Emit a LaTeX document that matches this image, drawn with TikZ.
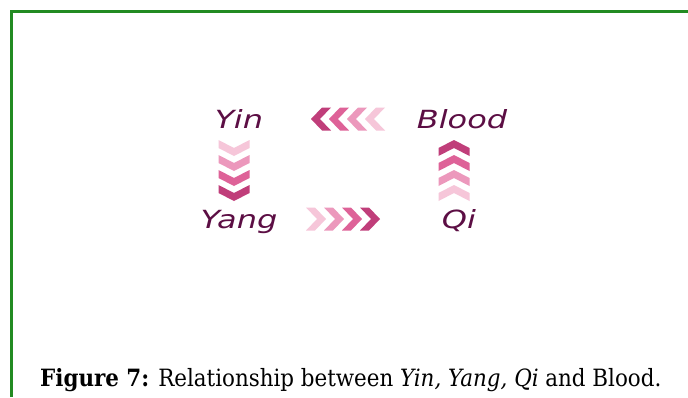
\documentclass[tikz,border=0pt]{standalone}
\usepackage{fontspec}
\setmainfont{DejaVu Serif Condensed}
\newfontfamily\handfont{DejaVu Sans}
\usetikzlibrary{calc}

\definecolor{frameGreen}{RGB}{34,139,34}
\definecolor{wordPurple}{RGB}{92,14,68}
\definecolor{pinkA}{RGB}{192,62,122}
\definecolor{pinkB}{RGB}{222,98,152}
\definecolor{pinkC}{RGB}{236,152,188}
\definecolor{pinkD}{RGB}{246,198,217}

\tikzset{
  word/.style={anchor=base, inner sep=0pt, text=wordPurple,
    font=\handfont\itshape\fontsize{25}{25}\selectfont, xscale=1.28, transform shape},
  caption/.style={anchor=base west, inner sep=0pt, text=black,
    font=\fontsize{23.8}{24}\selectfont},
  % chevron pointing right, tip at the origin
  chevH/.pic={\fill[pic actions] (0,0) -- (-11,-11.5) -- (-20,-11.5) -- (-9,0)
      -- (-20,11.5) -- (-11,11.5) -- cycle;},
  % chevron pointing down, tip at the origin
  chevV/.pic={\fill[pic actions] (0,0) -- (-15.5,-8) -- (-15.5,-16) -- (0,-8)
      -- (15.5,-16) -- (15.5,-8) -- cycle;},
}

\begin{document}
\begin{tikzpicture}[x=1pt,y=-1pt]
  \useasboundingbox (0,0) rectangle (688,397);
  \fill[white] (0,0) rectangle (688,397);

  % green frame, open to the right and bottom
  \draw[frameGreen, line width=3pt] (11.5,397) -- (11.5,11.5) -- (688,11.5);

  % the four words
  \node[word] (yin)   at (239,128) {Yin};
  \node[word] (blood) at (462,128) {Blood};
  \node[word] (yang)  at (239,228) {Yang};
  \node[word] (qi)    at (459,228) {Qi};

  % Blood -> Yin (pointing left)
  \foreach \i/\c in {0/pinkA,1/pinkB,2/pinkC,3/pinkD}
    \pic[fill=\c, xscale=-1] at ({311+18*\i},119) {chevH};
  % Yin -> Yang (pointing down)
  \foreach \i/\c in {0/pinkD,1/pinkC,2/pinkB,3/pinkA}
    \pic[fill=\c] at (234,{156+15*\i}) {chevV};
  % Yang -> Qi (pointing right)
  \foreach \i/\c in {0/pinkD,1/pinkC,2/pinkB,3/pinkA}
    \pic[fill=\c] at ({326+18*\i},219) {chevH};
  % Qi -> Blood (pointing up)
  \foreach \i/\c in {0/pinkA,1/pinkB,2/pinkC,3/pinkD}
    \pic[fill=\c, yscale=-1] at (454,{140+15*\i}) {chevV};

  % caption
  \node[caption] (cap) at (40,386)
    {\textbf{Figure 7:} Relationship between \textit{Yin, Yang, Qi} and Blood.};
\end{tikzpicture}
\end{document}
